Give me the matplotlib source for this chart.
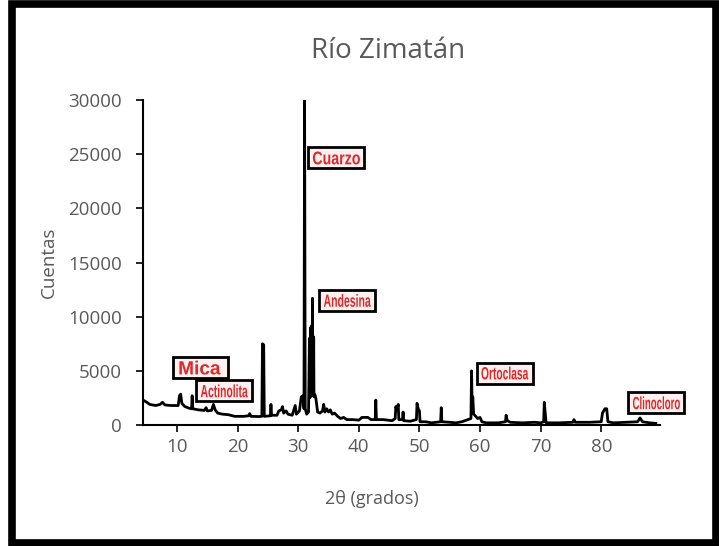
import matplotlib
matplotlib.use("Agg")
import matplotlib.pyplot as plt
from matplotlib.patches import Rectangle, PathPatch
from matplotlib.textpath import TextPath
from matplotlib.font_manager import FontProperties
from matplotlib.transforms import Affine2D, IdentityTransform

# Difractograma - Río Zimatán
dos_theta = [4.4, 5.0, 5.5, 6.5, 7.2, 7.6, 8.0, 9.0, 10.2, 10.4, 10.6, 10.8, 11.3,
             12.0, 12.4, 12.5, 12.6, 13.5, 14.5, 14.8, 15.0, 15.7, 16.0, 16.3, 16.7,
             17.5, 18.5, 19.5, 21.0, 21.8, 22.0, 22.2, 23.5, 24.0, 24.1, 24.3, 24.4,
             25.4, 25.5, 25.6, 26.5, 26.8, 27.2, 27.4, 27.6, 28.0, 28.3, 29.0, 29.5,
             29.7, 30.2, 30.5, 30.8, 30.95, 31.05, 31.15, 31.4, 31.7, 31.85, 31.9,
             31.95, 32.0, 32.05, 32.1, 32.15, 32.2, 32.25, 32.3, 32.35, 32.4, 32.45,
             32.5, 32.55, 32.6, 32.75, 32.9, 33.2, 33.6, 34.0, 34.2, 34.4,
             34.7, 35.0, 35.3, 35.6, 36.0, 36.5, 37.0, 37.5, 38.0, 39.0, 40.0, 40.5,
             41.5, 42.0, 42.7, 42.8, 42.9, 44.0, 45.5, 46.0, 46.1, 46.3, 46.5, 46.6,
             47.2, 47.3, 47.4, 48.5, 49.5, 49.6, 49.8, 50.0, 50.1, 51.0, 52.0, 53.5,
             53.6, 53.7, 55.0, 56.0, 57.0, 58.0, 58.5, 58.6, 58.7, 58.8, 58.95, 59.3,
             59.6, 60.0, 60.3, 61.0, 63.0, 64.2, 64.3, 64.5, 65.0, 67.0, 69.0, 70.0,
             70.5, 70.6, 70.75, 70.9, 73.0, 75.3, 75.5, 75.7, 78.0, 80.0, 80.2, 80.4,
             80.6, 80.9, 81.1, 82.0, 84.0, 86.0, 86.4, 86.8, 88.0, 89.0]
cuentas = [2300, 2100, 1900, 1800, 1900, 2100, 1850, 1800, 1800, 2700, 2850, 2000, 1700,
           1550, 1500, 2700, 1500, 1400, 1350, 1600, 1300, 1350, 1900, 1400, 1100,
           1000, 950, 800, 800, 850, 1050, 800, 780, 800, 7500, 7400, 800,
           850, 1900, 900, 900, 1300, 1400, 1700, 1100, 1300, 1000, 900, 1800,
           1000, 1300, 2600, 2700, 1500, 30000, 1500, 1000, 1200, 8000, 2500,
           7800, 2600, 9000, 3000, 8500, 2800, 9200, 3000, 11700, 2900, 8200,
           2700, 8100, 2600, 2800, 2500, 1200, 1100, 1300, 1900, 1200,
           1500, 1200, 1400, 1000, 1100, 800, 600, 700, 500, 500, 450, 700,
           700, 500, 500, 2300, 500, 500, 400, 600, 1700, 1400, 1900, 500,
           500, 1200, 400, 350, 500, 2000, 1500, 1300, 300, 300, 200, 300,
           1600, 300, 250, 200, 300, 500, 600, 5000, 1500, 2600, 1000, 800,
           600, 700, 300, 200, 200, 300, 900, 400, 250, 200, 250, 200,
           300, 2100, 1100, 200, 200, 250, 500, 250, 250, 300, 1100, 1300,
           1500, 1500, 300, 200, 250, 300, 650, 300, 200, 150]

minerales = ["Mica", "Actinolita", "Cuarzo", "Andesina", "Ortoclasa", "Clinocloro"]
etiqueta_x = [13.8, 17.8, 36.3, 38.1, 64.1, 89.1]
etiqueta_y = [5300, 3150, 24650, 11500, 4800, 2050]

gris = "#595959"
rojo = "#e02828"
plt.rcParams["font.family"] = ["Open Sans", "DejaVu Sans"]

fig = plt.figure(figsize=(7.19, 5.46), dpi=100)
ax = fig.add_axes([0.199, 0.2216, 0.719, 0.5952])

ax.plot(dos_theta, cuentas, color="black", lw=2)

ax.set_xlim(4.4, 89.7)
ax.set_ylim(0, 30000)
ax.set_xticks(range(10, 90, 10))
ax.set_yticks(range(0, 30001, 5000))
for s in ["top", "right"]:
    ax.spines[s].set_visible(False)
for s in ["left", "bottom"]:
    ax.spines[s].set_linewidth(1.5)
ax.tick_params(colors="black", labelcolor=gris, labelsize=13.5, length=5, width=1.2)
ax.tick_params(axis="x", pad=4)
ax.tick_params(axis="y", pad=10)

ax.set_title("Río Zimatán", fontsize=20, color=gris, pad=30, x=0.474)
ax.set_xlabel("2θ (grados)", fontsize=13, color=gris, labelpad=24)
ax.xaxis.set_label_coords(0.443, -0.2)
ax.set_ylabel("Cuentas", fontsize=13.5, color=gris, labelpad=8)

# etiquetas de fases: texto condensado dentro de cajas (coordenadas en pixeles)
negrita = FontProperties(family="Liberation Sans", weight="bold")
for i, nombre in enumerate(minerales):
    cx, cy = ax.transData.transform((etiqueta_x[i], etiqueta_y[i]))
    tp = TextPath((0, 0), nombre, size=18, prop=negrita)
    if nombre == "Mica":
        ancho_max, alto, caja_w = 42, 14, 55
    else:
        ancho_max, alto, caja_w = 47, 13, 56
    bb = tp.get_extents()
    sy = alto / bb.height
    sx = min(sy, ancho_max / bb.width)
    tr = (Affine2D().translate(-bb.x0 - bb.width / 2, -bb.y0 - bb.height / 2)
          .scale(sx, sy).translate(cx, cy))
    caja = Rectangle((cx - caja_w / 2, cy - 10.5), caja_w, 21,
                     transform=IdentityTransform(), fc="#fdf0f0", ec="black",
                     lw=2, clip_on=False, zorder=4)
    fig.patches.append(caja)
    fig.patches.append(PathPatch(tp, transform=tr, fc=rojo, ec="none",
                                 clip_on=False, zorder=5))

# marco negro
fig.patches.append(Rectangle((12 / 719, 3.5 / 546), 703.5 / 719, 539 / 546,
                             transform=fig.transFigure, fill=False,
                             ec="black", lw=5.5))

fig.savefig("out.png", dpi=100)
